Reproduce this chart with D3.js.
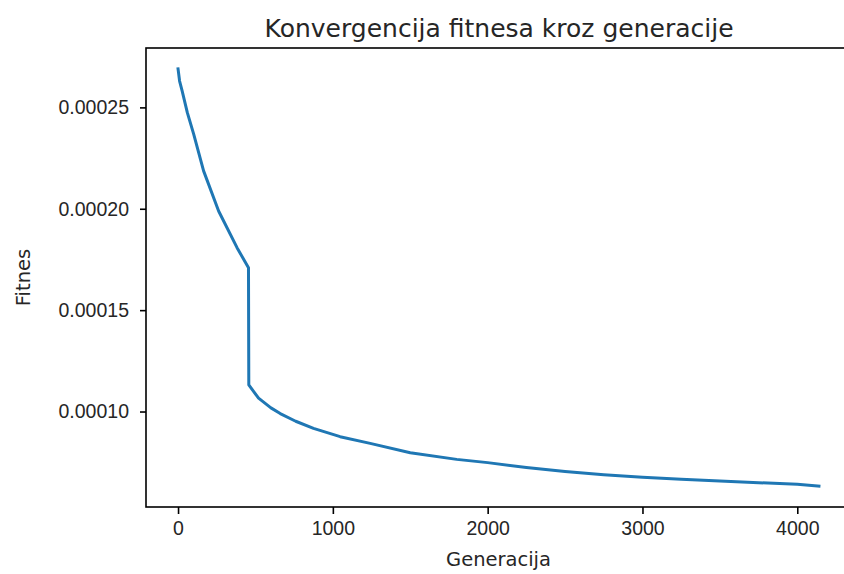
<!DOCTYPE html>
<html lang="en">
<head>
    <meta charset="UTF-8">
    <script src="https://d3js.org/d3.v7.min.js"></script>
    <title>Konvergencija fitnesa kroz generacije</title>
    <style>
        body { margin: 0; background: white; }
        svg { display: block; font-family: "DejaVu Sans", sans-serif; }
        .tick text { font-size: 19.5px; fill: #262626; }
        .tick line { stroke: #000; stroke-width: 1.6; }
        .domain { display: none; }
    </style>
</head>
<body>
<script>
    // generacija -> fitnes
    var generations = [0, 10, 26, 60, 101, 165, 262, 381, 455, 457, 470, 520, 600, 660, 760,
        875, 1047, 1241, 1500, 1800, 2000, 2250, 2500, 2750, 3000, 3250, 3500, 3750, 4000, 4140];
    var fitness = [0.000269, 0.000263, 0.0002583, 0.0002474, 0.0002368, 0.0002187, 0.0001989,
        0.0001808, 0.0001709, 0.0001132, 0.0001118, 0.0001066, 0.0001018, 0.0000990, 0.0000952,
        0.0000917, 0.0000876, 0.0000843, 0.0000797, 0.0000764, 0.0000748, 0.0000724, 0.0000704,
        0.0000688, 0.0000676, 0.0000666, 0.0000657, 0.0000649, 0.0000641, 0.0000632];
    var xTicks = [0, 1000, 2000, 3000, 4000];
    var yTicks = [0.00010, 0.00015, 0.00020, 0.00025];

    var canvasWidth = 844;
    var canvasHeight = 574;
    var plotLeft = 146, plotTop = 48, plotRight = 851, plotBottom = 507;

    var svg = d3.select("body").append("svg")
        .attr("width", canvasWidth)
        .attr("height", canvasHeight);

    // matplotlib style 5% margins
    var xMin = d3.min(generations), xMax = d3.max(generations);
    var yMin = d3.min(fitness), yMax = d3.max(fitness);
    var xPad = (xMax - xMin) * 0.05, yPad = (yMax - yMin) * 0.05;

    var xScale = d3.scaleLinear().domain([xMin - xPad, xMax + xPad]).range([plotLeft, plotRight]);
    var yScale = d3.scaleLinear().domain([yMin - yPad, yMax + yPad]).range([plotBottom, plotTop]);

    var data = generations.map(function(g, i) { return {g: g, f: fitness[i]}; });

    var line = d3.line()
        .x(function(d) { return xScale(d.g); })
        .y(function(d) { return yScale(d.f); });

    svg.append("path")
        .datum(data)
        .attr("d", line)
        .attr("fill", "none")
        .attr("stroke", "#1f77b4")
        .attr("stroke-width", 3)
        .attr("stroke-linejoin", "round")
        .attr("stroke-linecap", "square");

    svg.append("g")
        .attr("transform", "translate(0," + plotBottom + ")")
        .call(d3.axisBottom(xScale).tickValues(xTicks).tickSize(7).tickPadding(7)
            .tickFormat(d3.format("d")));

    svg.append("g")
        .attr("transform", "translate(" + plotLeft + ",0)")
        .call(d3.axisLeft(yScale).tickValues(yTicks).tickSize(6).tickPadding(11)
            .tickFormat(function(d) { return d.toFixed(5); }));

    // spines
    svg.append("rect")
        .attr("x", plotLeft).attr("y", plotTop)
        .attr("width", plotRight - plotLeft).attr("height", plotBottom - plotTop)
        .attr("fill", "none")
        .attr("stroke", "#000")
        .attr("stroke-width", 1.6);

    svg.append("text")
        .attr("x", 499).attr("y", 37)
        .attr("text-anchor", "middle")
        .style("font-size", "25px")
        .attr("fill", "#262626")
        .text("Konvergencija fitnesa kroz generacije");

    svg.append("text")
        .attr("x", (plotLeft + plotRight) / 2).attr("y", 566)
        .attr("text-anchor", "middle")
        .style("font-size", "19.5px")
        .attr("fill", "#262626")
        .text("Generacija");

    svg.append("text")
        .attr("transform", "translate(30," + (plotTop + plotBottom) / 2 + ") rotate(-90)")
        .attr("text-anchor", "middle")
        .style("font-size", "19.5px")
        .attr("fill", "#262626")
        .text("Fitnes");
</script>
</body>
</html>
